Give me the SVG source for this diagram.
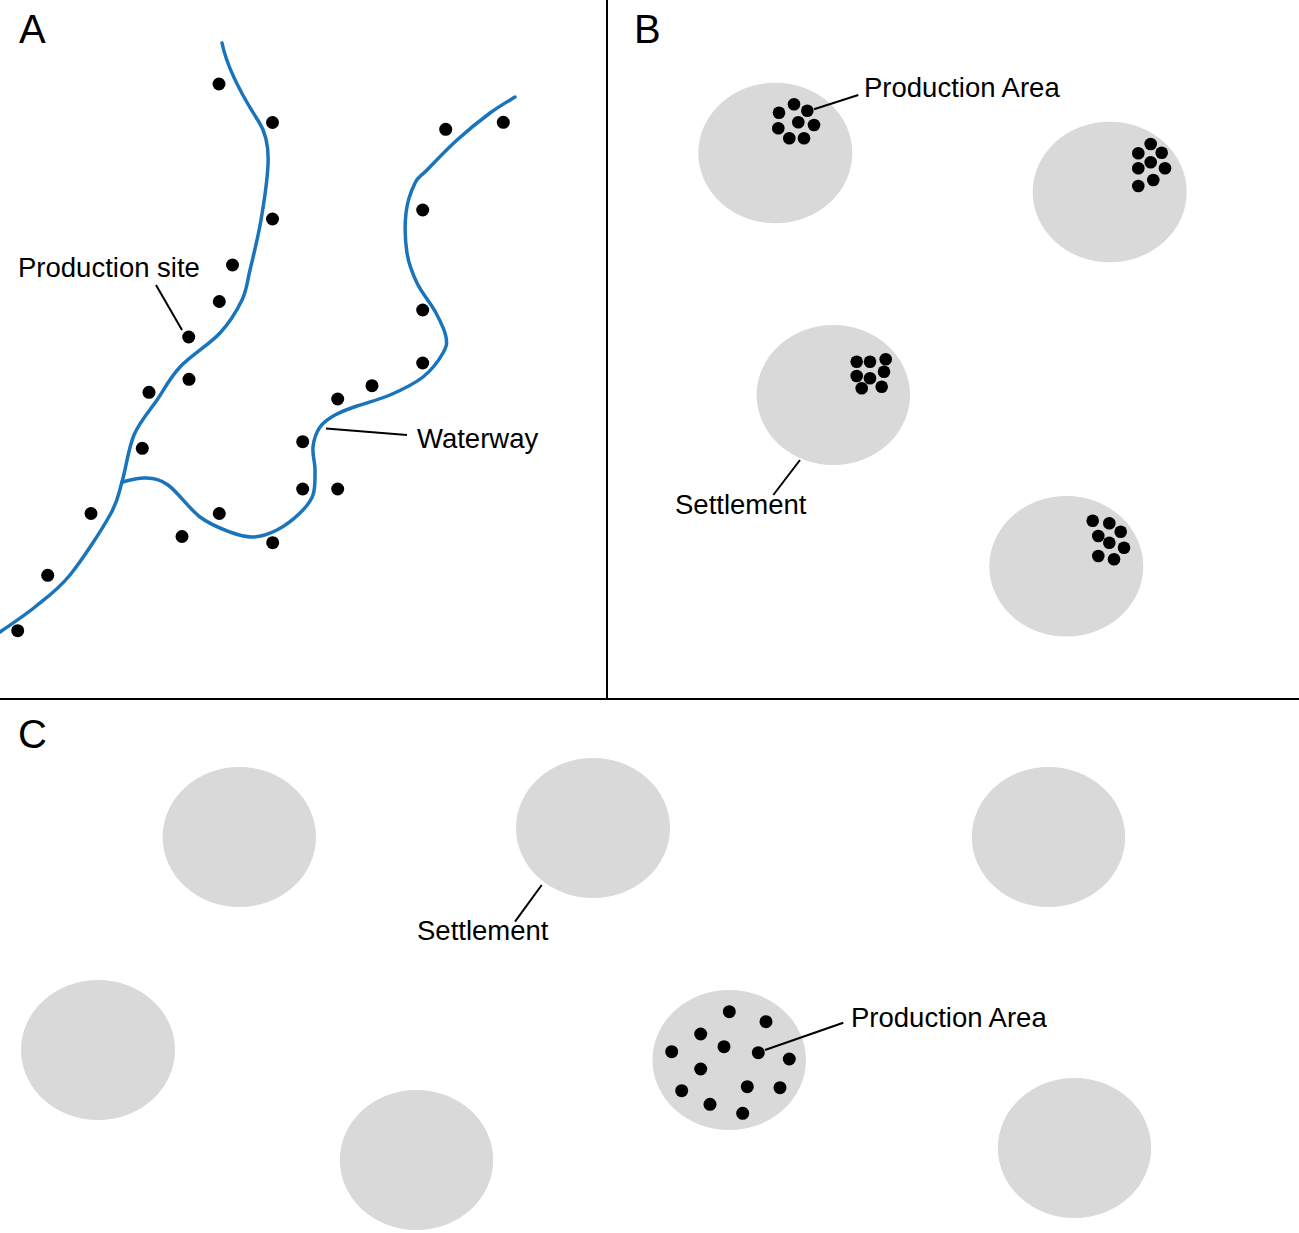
<svg xmlns="http://www.w3.org/2000/svg" width="1299" height="1233" viewBox="0 0 1299 1233">
<style>
.bg{fill:#ffffff}
.frame{stroke:#000;stroke-width:2;fill:none}
.river{stroke:#1a74bb;stroke-width:3.5;fill:none;stroke-linecap:round;stroke-linejoin:round}
.lead{stroke:#000;stroke-width:2;fill:none}
.set{fill:#d9d9d9}
.dot{fill:#000}
.lbl{font-family:"Liberation Sans",Arial,sans-serif;font-size:27.5px;fill:#000}
.pl{font-family:"Liberation Sans",Arial,sans-serif;font-size:40px;fill:#000}
</style>
<rect class="bg" x="0" y="0" width="1299" height="1233"/>
<g id="frame">
<line class="frame" x1="607" y1="0" x2="607" y2="699"/>
<line class="frame" x1="0" y1="699" x2="1299" y2="699"/>
</g>
<g id="panel-labels">
<text class="pl" x="19" y="43">A</text>
<text class="pl" x="634" y="43">B</text>
<text class="pl" x="18" y="748">C</text>
</g>
<g id="panelA">
<g id="waterway">
<path class="river" d="M222,43 C228,72 248,105 259,122 C266,133 269,145 268,165 S264,202.5 261,220 S253.2,256.7 250,270 S247,289.5 242,300 S230.3,321.8 220,333 S190.5,355.8 180,367 S164.7,388.7 157,400 S139.8,421.3 134,435 S126,468.7 122,482 S118.7,499.5 110,515 S82.5,559.7 70,575 S46.7,597.5 35,607 S5.8,627.8 0,632"/>
<path class="river" d="M122,482 C125.8,481.3 137.3,477.5 145,478 S158.8,478.5 168,485 S189.7,509.2 200,517 S221.2,528.7 230,532 S245.2,537.3 253,537 S269.2,534 277,530 S294,518.8 300,513 S310.5,502.2 313,495 S315,478 315,470 S312.2,454.2 313,447 S316.3,432.3 320,427 S328.8,418.5 335,415 S347.8,409.3 357,406 S379,399.8 390,395 S414.2,384 423,377 S439.2,359.7 443,353 S447.2,343.7 446,337 S440.8,322 436,313 S421.8,293 417,283 S408.8,264.7 407,253 S404.7,224.7 406,213 S411.5,190.2 415,183 S420,177.2 427,170 S446.5,149.5 457,140 S480.3,120.2 490,113 S510.8,99.7 515,97"/>
</g>
<g id="production-sites">
<circle class="dot" cx="219" cy="84" r="6.5"/>
<circle class="dot" cx="272.5" cy="122.5" r="6.5"/>
<circle class="dot" cx="272.5" cy="219" r="6.5"/>
<circle class="dot" cx="232.5" cy="265" r="6.5"/>
<circle class="dot" cx="219.3" cy="301.5" r="6.5"/>
<circle class="dot" cx="188.7" cy="337" r="6.5"/>
<circle class="dot" cx="189" cy="379.3" r="6.5"/>
<circle class="dot" cx="149" cy="392.3" r="6.5"/>
<circle class="dot" cx="142.3" cy="448.3" r="6.5"/>
<circle class="dot" cx="91" cy="513.5" r="6.5"/>
<circle class="dot" cx="47.7" cy="575.3" r="6.5"/>
<circle class="dot" cx="17.7" cy="630.7" r="6.5"/>
<circle class="dot" cx="182" cy="536.5" r="6.5"/>
<circle class="dot" cx="219.3" cy="513.5" r="6.5"/>
<circle class="dot" cx="272.7" cy="542.7" r="6.5"/>
<circle class="dot" cx="302.7" cy="441.7" r="6.5"/>
<circle class="dot" cx="302.7" cy="489" r="6.5"/>
<circle class="dot" cx="337.7" cy="489" r="6.5"/>
<circle class="dot" cx="337.7" cy="399" r="6.5"/>
<circle class="dot" cx="372" cy="385.7" r="6.5"/>
<circle class="dot" cx="422.7" cy="363" r="6.5"/>
<circle class="dot" cx="422.7" cy="310" r="6.5"/>
<circle class="dot" cx="422.7" cy="210" r="6.5"/>
<circle class="dot" cx="445.7" cy="129.3" r="6.5"/>
<circle class="dot" cx="503.3" cy="122.3" r="6.5"/>
</g>
<g id="label-production-site">
<line class="lead" x1="156" y1="285" x2="182" y2="330"/>
<text class="lbl" x="18" y="277">Production site</text>
</g>
<g id="label-waterway">
<line class="lead" x1="326" y1="428.5" x2="407" y2="435"/>
<text class="lbl" x="417" y="448">Waterway</text>
</g>
</g>
<g id="panelB">
<g id="B-settlement-1">
<ellipse class="set" cx="775.3" cy="153" rx="77" ry="70.3"/>
<circle class="dot" cx="794" cy="104.3" r="6.3"/>
<circle class="dot" cx="779" cy="112.7" r="6.3"/>
<circle class="dot" cx="807.3" cy="110.7" r="6.3"/>
<circle class="dot" cx="798.3" cy="122.3" r="6.3"/>
<circle class="dot" cx="778.3" cy="128.3" r="6.3"/>
<circle class="dot" cx="814" cy="125" r="6.3"/>
<circle class="dot" cx="789.3" cy="138.3" r="6.3"/>
<circle class="dot" cx="804" cy="138.3" r="6.3"/>
</g>
<g id="B-settlement-2">
<ellipse class="set" cx="1109.7" cy="192" rx="77" ry="70.3"/>
<circle class="dot" cx="1150.7" cy="144" r="6.3"/>
<circle class="dot" cx="1138.3" cy="153.3" r="6.3"/>
<circle class="dot" cx="1161.7" cy="152.7" r="6.3"/>
<circle class="dot" cx="1150.7" cy="162.3" r="6.3"/>
<circle class="dot" cx="1138.3" cy="168.3" r="6.3"/>
<circle class="dot" cx="1165" cy="168.3" r="6.3"/>
<circle class="dot" cx="1153.3" cy="180" r="6.3"/>
<circle class="dot" cx="1138.3" cy="186" r="6.3"/>
</g>
<g id="B-settlement-3">
<ellipse class="set" cx="833.3" cy="395" rx="76.7" ry="70"/>
<circle class="dot" cx="856.7" cy="361.7" r="6.3"/>
<circle class="dot" cx="870" cy="361.7" r="6.3"/>
<circle class="dot" cx="885.7" cy="359.3" r="6.3"/>
<circle class="dot" cx="856.7" cy="376" r="6.3"/>
<circle class="dot" cx="870" cy="378.3" r="6.3"/>
<circle class="dot" cx="884" cy="371.7" r="6.3"/>
<circle class="dot" cx="861.7" cy="388.3" r="6.3"/>
<circle class="dot" cx="881.7" cy="386.7" r="6.3"/>
</g>
<g id="B-settlement-4">
<ellipse class="set" cx="1066.3" cy="566.3" rx="77" ry="70.3"/>
<circle class="dot" cx="1092.7" cy="520.7" r="6.3"/>
<circle class="dot" cx="1109.3" cy="523.3" r="6.3"/>
<circle class="dot" cx="1120.7" cy="531.7" r="6.3"/>
<circle class="dot" cx="1098.3" cy="536" r="6.3"/>
<circle class="dot" cx="1109.3" cy="542.7" r="6.3"/>
<circle class="dot" cx="1124" cy="547.7" r="6.3"/>
<circle class="dot" cx="1098.3" cy="556" r="6.3"/>
<circle class="dot" cx="1114" cy="559.3" r="6.3"/>
</g>
<g id="B-label-production-area">
<line class="lead" x1="814" y1="109.3" x2="858.3" y2="95"/>
<text class="lbl" x="864" y="97.3">Production Area</text>
</g>
<g id="B-label-settlement">
<line class="lead" x1="800" y1="460" x2="773.3" y2="495"/>
<text class="lbl" x="675" y="514">Settlement</text>
</g>
</g>
<g id="panelC">
<g id="C-settlement-1"><ellipse class="set" cx="239.3" cy="837" rx="76.7" ry="70"/></g>
<g id="C-settlement-2"><ellipse class="set" cx="593" cy="828" rx="77" ry="70"/></g>
<g id="C-settlement-3"><ellipse class="set" cx="1048.5" cy="837" rx="76.7" ry="70"/></g>
<g id="C-settlement-4"><ellipse class="set" cx="98" cy="1050" rx="77" ry="70"/></g>
<g id="C-settlement-5"><ellipse class="set" cx="416.5" cy="1160" rx="76.7" ry="70"/></g>
<g id="C-settlement-6">
<ellipse class="set" cx="729.2" cy="1060" rx="76.7" ry="70"/>
<circle class="dot" cx="729.3" cy="1011.7" r="6.5"/>
<circle class="dot" cx="766" cy="1021.7" r="6.5"/>
<circle class="dot" cx="700.7" cy="1034" r="6.5"/>
<circle class="dot" cx="724" cy="1046.7" r="6.5"/>
<circle class="dot" cx="758.3" cy="1052.7" r="6.5"/>
<circle class="dot" cx="671.7" cy="1051.7" r="6.5"/>
<circle class="dot" cx="789.3" cy="1059" r="6.5"/>
<circle class="dot" cx="700.7" cy="1069" r="6.5"/>
<circle class="dot" cx="681.7" cy="1090.7" r="6.5"/>
<circle class="dot" cx="747.3" cy="1086.7" r="6.5"/>
<circle class="dot" cx="780" cy="1087.7" r="6.5"/>
<circle class="dot" cx="710" cy="1104.3" r="6.5"/>
<circle class="dot" cx="742.7" cy="1113.3" r="6.5"/>
</g>
<g id="C-settlement-7"><ellipse class="set" cx="1074.5" cy="1148" rx="76.7" ry="70"/></g>
<g id="C-label-settlement">
<line class="lead" x1="541.7" y1="885" x2="515" y2="921.7"/>
<text class="lbl" x="417" y="940">Settlement</text>
</g>
<g id="C-label-production-area">
<line class="lead" x1="765" y1="1050" x2="843.3" y2="1022.7"/>
<text class="lbl" x="851" y="1026.7">Production Area</text>
</g>
</g>
</svg>
